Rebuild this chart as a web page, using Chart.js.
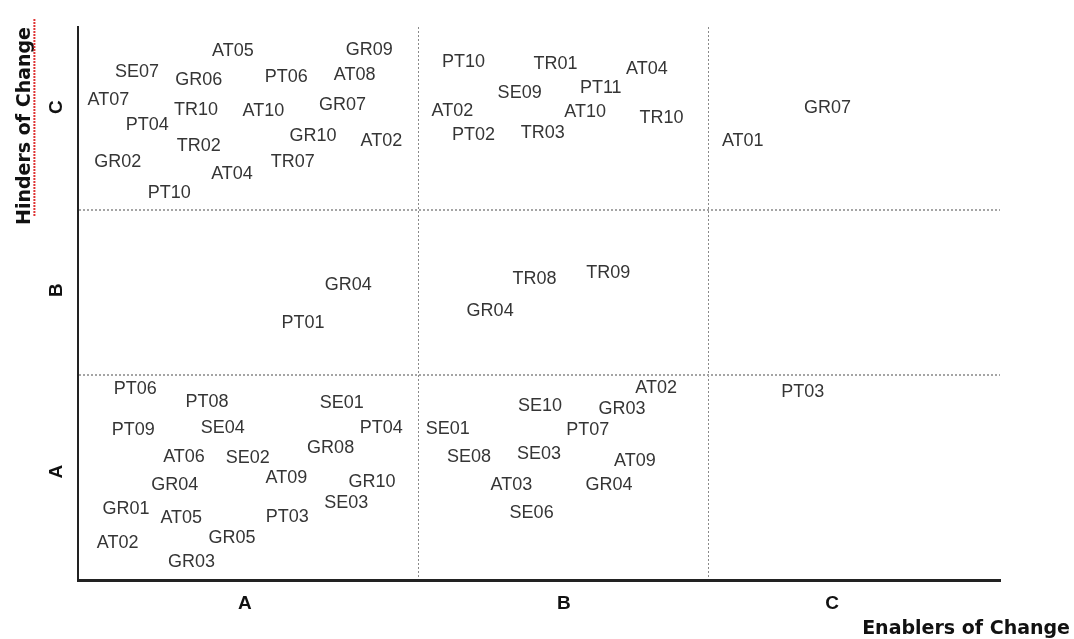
<!DOCTYPE html>
<html>
<head>
<meta charset="utf-8">
<script src="https://cdn.jsdelivr.net/npm/chart.js@4"></script>
<style>
  html, body { margin: 0; padding: 0; background: #ffffff; }
  #wrap { width: 1074px; height: 639px; position: relative; }
</style>
</head>
<body>
<div id="wrap"><canvas id="c" width="1074" height="639"></canvas></div>
<script>
// ---- data (positions on a 0-100 scale) ----
const codes = [
  // Hinders C / Enablers A
  'AT05','GR09','SE07','GR06','PT06','AT08','AT07','TR10','AT10','GR07','PT04','GR10','AT02','TR02','GR02','TR07','AT04','PT10',
  // Hinders C / Enablers B
  'PT10','TR01','AT04','SE09','PT11','AT02','AT10','TR10','PT02','TR03',
  // Hinders C / Enablers C
  'AT01','GR07',
  // Hinders B
  'GR04','PT01','TR08','TR09','GR04',
  // Hinders A / Enablers A
  'PT06','PT08','SE01','PT09','SE04','PT04','GR08','AT06','SE02','AT09','GR10','GR04','SE03','GR01','AT05','PT03','GR05','AT02','GR03',
  // Hinders A / Enablers B
  'AT02','SE10','GR03','SE01','PT07','SE08','SE03','AT09','AT03','GR04','SE06',
  // Hinders A / Enablers C
  'PT03'
];
const enablers = [
  16.8,31.6,6.4,13.1,22.6,30.0,3.3,12.8,20.1,28.7,7.5,25.5,32.9,13.1,4.3,23.3,16.7,9.9,
  41.8,51.8,61.7,47.9,56.7,40.6,55.0,63.3,42.9,50.4,
  72.1,81.3,
  29.3,24.4,49.5,57.5,44.7,
  6.2,14.0,28.6,6.0,15.7,32.9,27.4,11.5,18.4,22.6,31.9,10.5,29.1,5.2,11.2,22.7,16.7,4.3,12.3,
  62.7,50.1,59.0,40.1,55.3,42.4,50.0,60.4,47.0,57.6,49.2,
  78.6
];
const hinders = [
  95.7,95.8,91.9,90.4,91.0,91.3,86.8,85.0,84.8,85.9,82.3,80.3,79.4,78.5,75.6,75.6,73.4,70.0,
  93.7,93.3,92.4,88.1,89.0,84.8,84.6,83.5,80.5,80.8,
  79.4,85.4,
  53.3,46.5,54.4,55.5,48.6,
  34.5,32.2,32.0,27.1,27.5,27.5,23.9,22.2,22.1,18.4,17.7,17.2,13.9,12.8,11.2,11.4,7.6,6.7,3.3,
  34.7,31.5,30.9,27.3,27.1,22.2,22.8,21.5,17.2,17.2,12.1,
  34.0
];
const levelLabels = ['A', 'B', 'C'];
const xLabelValues = [18.1, 52.7, 81.8];
const yLabelValues = [19.6, 52.4, 85.5];
const xDividers = [36.9, 68.4];
const yDividers = [37.1, 66.9];
const xTitle = 'Enablers of Change';
const yTitle = 'Hinders of Change';

const near = (a, b) => Math.abs(a - b) < 1e-6;
const isIn = (v, arr) => arr.some(a => near(a, v));

const codeLabelPlugin = {
  id: 'codeLabels',
  afterDatasetsDraw(chart) {
    const ctx = chart.ctx;
    const meta = chart.getDatasetMeta(0);
    ctx.save();
    ctx.font = '18px "Liberation Sans", Arial, sans-serif';
    ctx.fillStyle = '#353535';
    ctx.textAlign = 'center';
    ctx.textBaseline = 'middle';
    meta.data.forEach((pt, i) => ctx.fillText(codes[i], pt.x, pt.y));
    ctx.restore();
  }
};

const yTickPlugin = {
  id: 'yRotTicks',
  afterDraw(chart) {
    const ctx = chart.ctx;
    const ys = chart.scales.y;
    ctx.save();
    ctx.font = 'bold 19px "Liberation Sans", Arial, sans-serif';
    ctx.fillStyle = '#111';
    ctx.textAlign = 'center';
    ctx.textBaseline = 'middle';
    yLabelValues.forEach((v, i) => {
      const py = ys.getPixelForValue(v);
      ctx.save();
      ctx.translate(ys.right - 21, py);
      ctx.rotate(-Math.PI / 2);
      ctx.fillText(levelLabels[i], 0, 0);
      ctx.restore();
    });
    // spell-check style red underline beside the rotated y title
    const tf = ys.options.title.font;
    ctx.font = 'bold ' + tf.size + 'px ' + tf.family;
    const w = ctx.measureText(yTitle).width;
    const cx = ys.left + ys.options.title.padding.top + tf.size * 1.2 / 2 + 9;
    ctx.strokeStyle = 'rgba(220,30,30,0.9)';
    ctx.lineWidth = 2;
    ctx.setLineDash([2, 1]);
    ctx.beginPath();
    ctx.moveTo(cx, chart.chartArea.top - 8);
    ctx.lineTo(cx, chart.chartArea.top - 8 + w);
    ctx.stroke();
    ctx.restore();
  }
};

new Chart(document.getElementById('c'), {
  type: 'scatter',
  data: {
    datasets: [{
      data: codes.map((c, i) => ({ x: enablers[i], y: hinders[i] })),
      pointRadius: 0,
      pointHoverRadius: 0,
      borderWidth: 0
    }]
  },
  options: {
    responsive: false,
    animation: false,
    events: [],
    layout: { padding: { top: 27, left: 0, right: 4, bottom: 0 } },
    plugins: {
      legend: { display: false },
      tooltip: { enabled: false },
      title: {
        display: true,
        text: xTitle,
        position: 'bottom',
        align: 'end',
        color: '#111',
        font: { family: '"DejaVu Sans", sans-serif', size: 19, weight: 'bold', lineHeight: 1 },
        padding: { top: 0, bottom: 0 }
      }
    },
    scales: {
      x: {
        type: 'linear',
        min: 0, max: 100,
        afterBuildTicks: (axis) => {
          axis.ticks = [0, ...xDividers, ...xLabelValues, 100].sort((a, b) => a - b).map(v => ({ value: v }));
        },
        afterFit: (s) => { s.height = 40; },
        grid: {
          drawTicks: false,
          color: (ctx) => (ctx.tick && isIn(ctx.tick.value, xDividers)) ? '#8a8a8a' : 'rgba(0,0,0,0)',
          lineWidth: 1
        },
        border: { display: true, color: '#222', width: 3, dash: [2, 2] },
        ticks: {
          autoSkip: false,
          maxRotation: 0,
          padding: 12,
          color: '#111',
          font: { family: '"Liberation Sans", Arial, sans-serif', size: 19, weight: 'bold' },
          callback: (value) => {
            const i = xLabelValues.findIndex(v => near(v, value));
            return i >= 0 ? levelLabels[i] : '';
          }
        }
      },
      y: {
        type: 'linear',
        min: 0, max: 100,
        afterBuildTicks: (axis) => {
          axis.ticks = [0, ...yDividers, 100].map(v => ({ value: v }));
        },
        afterFit: (s) => { s.width = 78; },
        grid: {
          drawTicks: false,
          color: (ctx) => (ctx.tick && isIn(ctx.tick.value, yDividers)) ? '#a5a5a5' : 'rgba(0,0,0,0)',
          lineWidth: 2
        },
        border: { display: true, color: '#222', width: 2, dash: [2, 2] },
        ticks: { display: false },
        title: {
          display: true,
          text: yTitle,
          align: 'end',
          color: '#111',
          font: { family: '"DejaVu Sans", sans-serif', size: 19, weight: 'bold' },
          padding: { top: 14, bottom: 0 }
        }
      },
      y2: {
        type: 'linear',
        position: 'right',
        display: true,
        afterFit: (s) => { s.width = 70; },
        grid: { display: false, drawTicks: false },
        border: { display: false },
        ticks: { display: false }
      }
    }
  },
  plugins: [codeLabelPlugin, yTickPlugin]
});
</script>
</body>
</html>
